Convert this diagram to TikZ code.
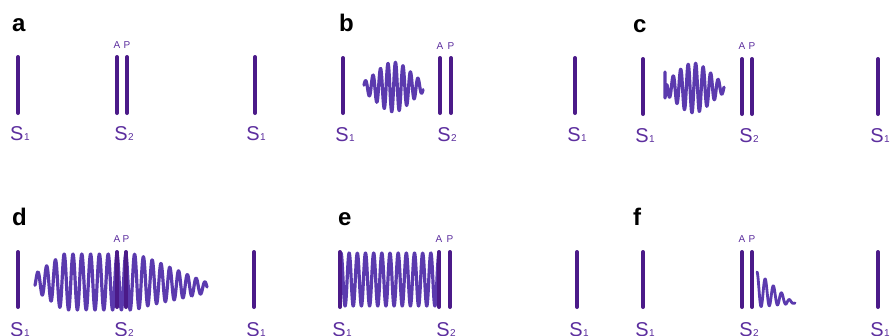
\documentclass[tikz,border=0pt]{standalone}
\usepackage{fontspec}
\setmainfont{Liberation Sans}
\definecolor{barcol}{HTML}{4B1A89}
\definecolor{wavecol}{HTML}{5B3AAE}
\definecolor{labcol}{HTML}{5C2E9E}
% site label: large S with a small index on the baseline
\newcommand\site[1]{S\kern0.6pt{\fontsize{10}{10}\selectfont #1}}
\begin{document}
\begin{tikzpicture}[x=1pt,y=-1pt,
  bar/.style={line width=4pt, line cap=round, draw=barcol},
  wave/.style={line width=3.2pt, draw=wavecol, line join=round, line cap=round},
  panel/.style={anchor=base west, inner sep=0pt, font=\fontsize{24}{24}\selectfont\bfseries},
  sitelab/.style={anchor=base, inner sep=0pt, text=labcol, font=\fontsize{20}{20}\selectfont},
  pollab/.style={anchor=base, inner sep=0pt, text=labcol, font=\fontsize{10}{10}\selectfont}]
\useasboundingbox (0,0) rectangle (891,335);
\clip (0,0) rectangle (891,335);

% ---------- waves (drawn below the bars) ----------
% b: wave packet between S1 and S2
\draw[wave] plot[domain=364:423, samples=160, smooth]
  (\x, {87 - 25*exp(-(\x-393.5)*(\x-393.5)/576)*sin(((\x-393.6)/7.5)*360)});
% c: packet meeting S1
\draw[wave] (665,72) -- (665,98) -- plot[domain=667:724, samples=160, smooth]
  (\x, {88 - 25*exp(-(\x-693.5)*(\x-693.5)/576)*sin(((\x-693.8)/7.5)*360)});
% d: wave spreading over S2
\draw[wave] plot[domain=35:207, samples=520, smooth]
  (\x, {282 + max(0,\x-150)*0.1 - min(28, 8+(\x-35)*0.7, 28-(\x-135)*0.32)*sin(((\x-114.8)/8.8)*360)});
% e: standing wave between S1 and S2
\draw[wave] plot[domain=341:439, samples=400, smooth]
  (\x, {279.5 - 26.5*cos(((\x-341)/8.1667)*360)});
% f: damped wave behind S2
\draw[wave, line width=2.8pt] plot[domain=757:795, samples=200, smooth]
  (\x, {307 - (\x-757)*0.1 - max(1.5, 35-(\x-757)*0.95)*(0.5+0.5*cos(((\x-757)/8.2)*360))});

% ---------- bars ----------
% row 1
\draw[bar] (18,57) -- (18,113);   \draw[bar] (117,57) -- (117,113);  \draw[bar] (127,57) -- (127,113);  \draw[bar] (255,57) -- (255,113);
\draw[bar] (343,58) -- (343,113); \draw[bar] (440,58) -- (440,113);  \draw[bar] (451,58) -- (451,113);  \draw[bar] (575,58) -- (575,113);
\draw[bar] (643,59) -- (643,114); \draw[bar] (742,59) -- (742,114);  \draw[bar] (752,59) -- (752,114);  \draw[bar] (878,59) -- (878,114);
% row 2
\draw[bar] (18,252) -- (18,307);  \draw[bar] (117,252) -- (117,307); \draw[bar] (126,252) -- (126,307); \draw[bar] (254,252) -- (254,307);
\draw[bar] (340,252) -- (340,307); \draw[bar] (439,252) -- (439,307); \draw[bar] (450,252) -- (450,307); \draw[bar] (577,252) -- (577,307);
\draw[bar] (643,252) -- (643,307); \draw[bar] (742,252) -- (742,307); \draw[bar] (752,252) -- (752,307); \draw[bar] (878,252) -- (878,307);

% ---------- panel letters ----------
\node[panel] (la) at (12,31.5) {a};
\node[panel] (lb) at (339,31.5) {b};
\node[panel] (lc) at (633,32) {c};
\node[panel] (ld) at (12,225) {d};
\node[panel] (le) at (338,225.5) {e};
\node[panel] (lf) at (633,225) {f};

% ---------- A / P marks ----------
\node[pollab] (aA) at (117,48) {A}; \node[pollab] (aP) at (127,48) {P};
\node[pollab] (bA) at (440,49) {A}; \node[pollab] (bP) at (451,49) {P};
\node[pollab] (cA) at (742,49.5) {A}; \node[pollab] (cP) at (752,49.5) {P};
\node[pollab] (dA) at (117,242) {A}; \node[pollab] (dP) at (126,242) {P};
\node[pollab] (eA) at (439,242) {A}; \node[pollab] (eP) at (450,242) {P};
\node[pollab] (fA) at (742,242) {A}; \node[pollab] (fP) at (752,242) {P};

% ---------- site names ----------
\node[sitelab] (sa1) at (20,140.5) {\site{1}};
\node[sitelab] (sa2) at (124,140.5) {\site{2}};
\node[sitelab] (sa3) at (256,140.5) {\site{1}};
\node[sitelab] (sb1) at (345,141.5) {\site{1}};
\node[sitelab] (sb2) at (447,141.5) {\site{2}};
\node[sitelab] (sb3) at (577,141.5) {\site{1}};
\node[sitelab] (sc1) at (645,142) {\site{1}};
\node[sitelab] (sc2) at (749,142) {\site{2}};
\node[sitelab] (sc3) at (880,142) {\site{1}};
\node[sitelab] (sd1) at (20,336.5) {\site{1}};
\node[sitelab] (sd2) at (124,336.5) {\site{2}};
\node[sitelab] (sd3) at (256,336.5) {\site{1}};
\node[sitelab] (se1) at (342,336.5) {\site{1}};
\node[sitelab] (se2) at (446,336.5) {\site{2}};
\node[sitelab] (se3) at (579,336.5) {\site{1}};
\node[sitelab] (sf1) at (645,336.5) {\site{1}};
\node[sitelab] (sf2) at (749,336.5) {\site{2}};
\node[sitelab] (sf3) at (880,336.5) {\site{1}};
\end{tikzpicture}
\end{document}
